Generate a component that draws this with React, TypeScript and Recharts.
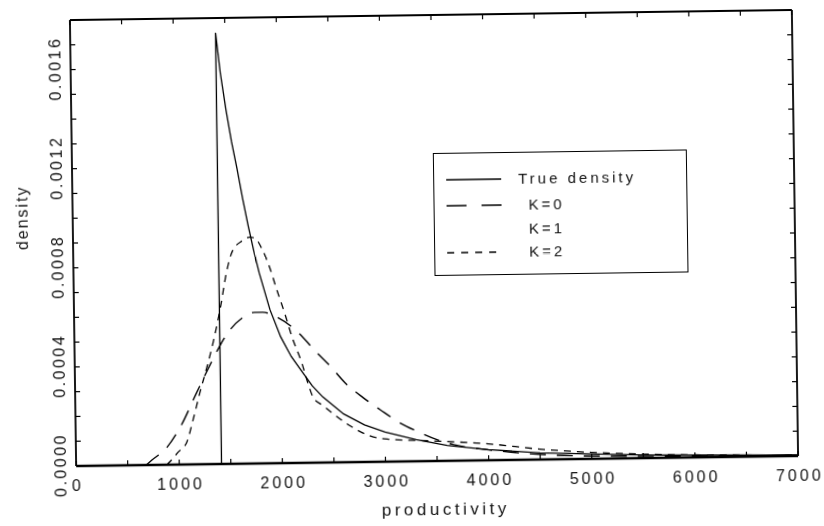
import React from 'react';
import { LineChart, Line, XAxis, YAxis, Legend } from 'recharts';

const FONT = "'Liberation Sans', Arial, Helvetica, sans-serif";
const INK = '#000';
const TEXT_INK = '#111';

// axis ticks
const xTicks = [0, 500, 1000, 1500, 2000, 2500, 3000, 3500, 4000, 4500, 5000, 5500, 6000, 6500, 7000];
const xLabelStep = 1000;
const yTicks = [0, 0.0001, 0.0002, 0.0003, 0.0004, 0.0005, 0.0006, 0.0007, 0.0008, 0.0009, 0.001, 0.0011, 0.0012, 0.0013, 0.0014, 0.0015, 0.0016, 0.0017, 0.0018];
const yLabelValues = ['0.0000', '0.0004', '0.0008', '0.0012', '0.0016'];

// True density
const trueX = [0, 1410, 1410, 1450, 1500, 1550, 1600, 1650, 1700, 1750, 1800, 1900, 2000, 2100, 2200, 2300, 2400, 2500, 2600, 2800, 3000, 3300, 3600, 4000, 4500, 5000, 5500, 6000, 6500, 7000];
const trueY = [0, 0, 0.00174, 0.00158, 0.00143, 0.0013, 0.00119, 0.00107, 0.00096, 0.00086, 0.00077, 0.00062, 0.00051, 0.00043, 0.00037, 0.00031, 0.000265, 0.00023, 0.000195, 0.00015, 0.00012, 0.000087, 0.000062, 0.000043, 0.000027, 0.00002, 0.000013, 0.000009, 0.000006, 0.000004];

// K = 0 (long dashes)
const k0X = [680, 736, 883, 1013, 1179, 1311, 1400, 1490, 1636, 1750, 1830, 1965, 2187, 2313, 2474, 2620, 2791, 2955, 3148, 3313, 3507, 3663, 4000, 4242, 4727, 5200, 6000, 7000];
const k0Y = [0, 0.00002, 0.00007, 0.00015, 0.00029, 0.0004, 0.00047, 0.00053, 0.00059, 0.00061, 0.00061, 0.00059, 0.00052, 0.00046, 0.00039, 0.00032, 0.00026, 0.00021, 0.000155, 0.00012, 0.000085, 0.000065, 0.000042, 0.00003, 0.000015, 0.00001, 0.000006, 0.000004];

// K = 2 (short dashes)
const k2X = [880, 912, 990, 1076, 1140, 1210, 1280, 1350, 1424, 1482, 1546, 1644, 1712, 1761, 1837, 1903, 1969, 2046, 2109, 2204, 2259, 2306, 2400, 2519, 2664, 2857, 3050, 3300, 3600, 4000, 4500, 5000, 5500, 6000, 7000];
const k2Y = [0, 0.000013, 0.00005, 0.00009, 0.00018, 0.00029, 0.00039, 0.0005, 0.00064, 0.00077, 0.00086, 0.0009, 0.000914, 0.00091, 0.00086, 0.00079, 0.0007, 0.0006, 0.00051, 0.0004, 0.00032, 0.000265, 0.00023, 0.00019, 0.000146, 0.000104, 0.00009, 0.000084, 0.000078, 0.000066, 0.000042, 0.000026, 0.000016, 0.00001, 0.000004];

const legendNames = ['True density', 'K=0', 'K=1', 'K=2'];

const toPoints = (xs: number[], ys: number[]) => xs.map((x, i) => ({ x, y: ys[i] }));
const trueData = toPoints(trueX, trueY);
const k0Data = toPoints(k0X, k0Y);
const k2Data = toPoints(k2X, k2Y);

const textStyle = { fontFamily: FONT, fill: TEXT_INK } as const;

function BottomTick(props: any) {
  const { x, y, payload } = props;
  const v = payload.value as number;
  return (
    <g>
      <line x1={x} y1={y} x2={x} y2={y - 5} stroke={INK} strokeWidth={1.2} />
      {v % xLabelStep === 0 && (
        <text x={x + 1.5} y={y + 25} textAnchor="middle" fontSize={16} letterSpacing={3} {...textStyle}>
          {v}
        </text>
      )}
    </g>
  );
}

function TopTick(props: any) {
  const { x, y } = props;
  return <line x1={x} y1={y} x2={x} y2={y + 5} stroke={INK} strokeWidth={1.2} />;
}

function LeftTick(props: any) {
  const { x, y, payload } = props;
  const v = payload.value as number;
  const label = v.toFixed(4);
  const show = yLabelValues.indexOf(label) >= 0;
  return (
    <g>
      <line x1={x} y1={y} x2={x + 5} y2={y} stroke={INK} strokeWidth={1.2} />
      {show && (
        <text
          transform={`translate(${x - 10},${y}) rotate(-90)`}
          x={1.25}
          y={0}
          textAnchor="middle"
          fontSize={16}
          letterSpacing={2.5}
          {...textStyle}
        >
          {label}
        </text>
      )}
    </g>
  );
}

function RightTick(props: any) {
  const { x, y } = props;
  return <line x1={x} y1={y} x2={x - 5} y2={y} stroke={INK} strokeWidth={1.2} />;
}

function LegendBox() {
  const rows = [
    { name: legendNames[0], y: 26, dash: '', tx: 84 },
    { name: legendNames[1], y: 52, dash: '20 15', tx: 94 },
    { name: legendNames[2], y: 76, dash: null, tx: 94 },
    { name: legendNames[3], y: 99, dash: '7 7', tx: 94 },
  ];
  return (
    <div style={{ width: 254, height: 123, border: '1.5px solid #000', boxSizing: 'border-box', background: '#fff' }}>
      <svg width={251} height={120} style={{ display: 'block' }}>
        {rows.map((r) => (
          <g key={r.name}>
            {r.dash !== null && (
              <line x1={12} y1={r.y} x2={67} y2={r.y} stroke={INK} strokeWidth={1.3} strokeDasharray={r.dash || undefined} />
            )}
            <text x={r.tx} y={r.y + 5} fontSize={15} letterSpacing={3} {...textStyle}>
              {r.name}
            </text>
          </g>
        ))}
      </svg>
    </div>
  );
}

export default function App() {
  return (
    <div
      style={{
        position: 'fixed',
        left: 0,
        top: 0,
        width: 824,
        height: 526,
        background: '#fff',
        transform: 'rotate(-0.8deg)',
        transformOrigin: '434px 238px',
      }}
    >
      <LineChart width={824} height={526} margin={{ top: 0, right: 0, bottom: 0, left: 0 }}>
        <XAxis
          dataKey="x"
          type="number"
          domain={[0, 7000]}
          ticks={xTicks}
          interval={0}
          height={65}
          tickSize={0}
          tickMargin={0}
          tickLine={false}
          axisLine={{ stroke: INK, strokeWidth: 2.6 }}
          tick={(p: any) => <BottomTick {...p} />}
          allowDataOverflow
          label={(p: any) => {
            const vb = p.viewBox || { x: 73, y: 461, width: 722 };
            return (
              <text x={vb.x + vb.width / 2 + 8} y={vb.y + 54} textAnchor="middle" fontSize={17} letterSpacing={3.5} {...textStyle}>
                productivity
              </text>
            );
          }}
        />
        <XAxis
          xAxisId="top"
          orientation="top"
          dataKey="x"
          type="number"
          domain={[0, 7000]}
          ticks={xTicks}
          interval={0}
          height={15}
          tickSize={0}
          tickMargin={0}
          tickLine={false}
          axisLine={{ stroke: INK, strokeWidth: 1.8 }}
          tick={(p: any) => <TopTick {...p} />}
          allowDataOverflow
        />
        <YAxis
          type="number"
          domain={[0, 0.0018]}
          ticks={yTicks}
          interval={0}
          width={73}
          tickSize={0}
          tickMargin={0}
          tickLine={false}
          axisLine={{ stroke: INK, strokeWidth: 1.8 }}
          tick={(p: any) => <LeftTick {...p} />}
          allowDataOverflow
          label={() => {
            const cx = 28;
            const cy = 212;
            return (
              <text transform={`translate(${cx},${cy}) rotate(-90)`} x={0} y={0} textAnchor="middle" fontSize={16} letterSpacing={2} {...textStyle}>
                density
              </text>
            );
          }}
        />
        <YAxis
          yAxisId="right"
          orientation="right"
          type="number"
          domain={[0, 0.0018]}
          ticks={yTicks}
          interval={0}
          width={29}
          tickSize={0}
          tickMargin={0}
          tickLine={false}
          axisLine={{ stroke: INK, strokeWidth: 1.8 }}
          tick={(p: any) => <RightTick {...p} />}
          allowDataOverflow
        />
        <Legend
          layout="vertical"
          align="center"
          verticalAlign="middle"
          content={() => <LegendBox />}
          wrapperStyle={{ position: 'absolute', left: 434, top: 153, width: 254, height: 123 }}
        />
        <Line
          data={trueData}
          dataKey="y"
          name={legendNames[0]}
          type="linear"
          stroke={INK}
          strokeWidth={1.3}
          dot={false}
          activeDot={false}
          isAnimationActive={false}
        />
        <Line
          data={k0Data}
          dataKey="y"
          name={legendNames[1]}
          type="monotone"
          stroke={INK}
          strokeWidth={1.4}
          strokeDasharray="16 11"
          dot={false}
          activeDot={false}
          isAnimationActive={false}
        />
        <Line
          data={k2Data}
          dataKey="y"
          name={legendNames[3]}
          type="monotone"
          stroke={INK}
          strokeWidth={1.3}
          strokeDasharray="7 6"
          dot={false}
          activeDot={false}
          isAnimationActive={false}
        />
      </LineChart>
    </div>
  );
}
